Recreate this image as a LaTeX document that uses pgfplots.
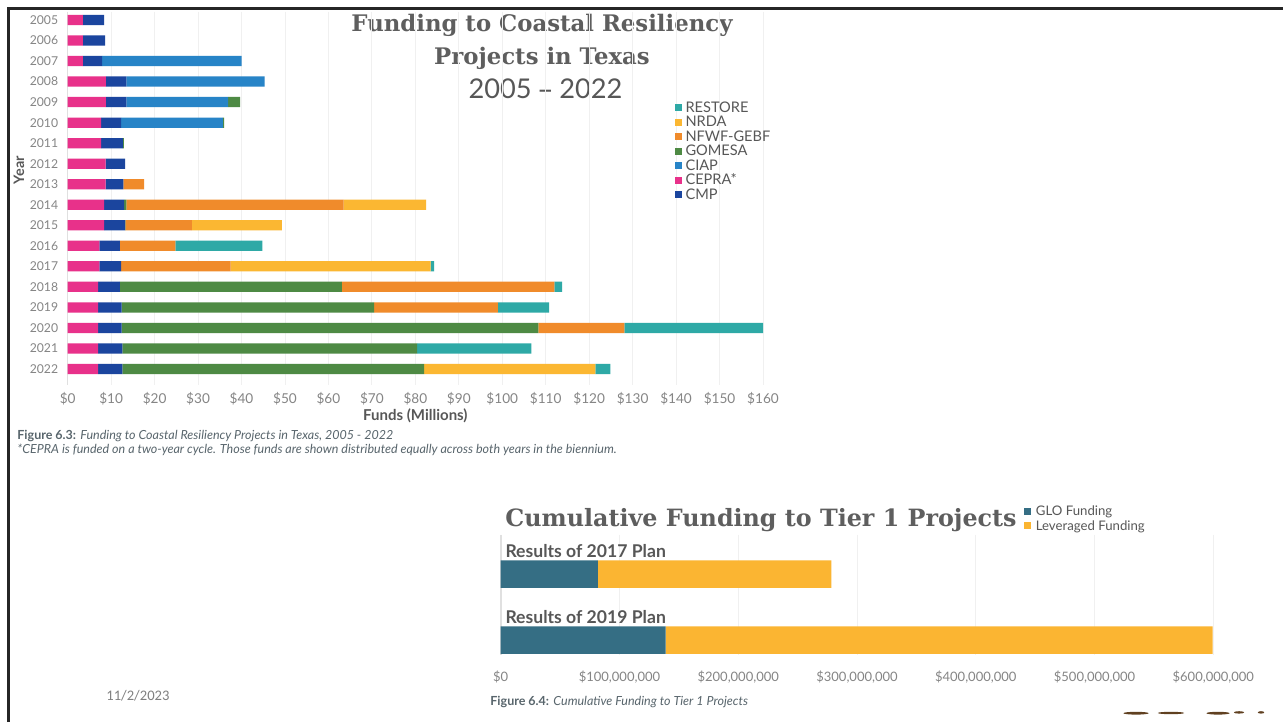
\documentclass[border=0pt]{standalone}
\usepackage{fontspec}
\setmainfont{Lato}
\newfontfamily\slabfont{DejaVu Serif}
\newfontfamily\datefont{Carlito}
\newfontfamily\dashfont{Open Sans}
\usepackage{pgfplots}
\pgfplotsset{compat=1.18}
\usepackage{pgfplotstable}

\definecolor{cepra}{HTML}{E8318A}
\definecolor{cmp}{HTML}{1B459E}
\definecolor{ciap}{HTML}{2784C7}
\definecolor{gomesa}{HTML}{4E8A44}
\definecolor{nfwf}{HTML}{F08B2B}
\definecolor{nrda}{HTML}{FBB732}
\definecolor{restore}{HTML}{2EA9A6}
\definecolor{glo}{HTML}{356E84}
\definecolor{lev}{HTML}{FBB532}
\definecolor{titlegray}{HTML}{575757}
\definecolor{headgray}{HTML}{5E5E5E}
\definecolor{tickgray}{HTML}{858585}
\definecolor{capgray}{HTML}{58656C}

% funding per year (millions), stacked left to right
\pgfplotstableread{
idx CEPRA CMP CIAP GOMESA NFWF NRDA RESTORE
0   3.5   4.9 0    0    0    0    0
1   3.5   5.1 0    0    0    0    0
2   3.5   4.4 32.1 0    0    0    0
3   8.8   4.7 31.8 0    0    0    0
4   8.8   4.7 23.4 2.8  0    0    0
5   7.7   4.6 23.4 0.3  0    0    0
6   7.7   5.0 0    0.2  0    0    0
7   8.7   4.5 0    0    0    0    0
8   8.7   4.1 0    0    4.8  0    0
9   8.4   4.6 0    0.5  50.0 19.0 0
10  8.4   4.8 0    0.1  15.3 20.7 0
11  7.3   4.7 0    0    12.8 0    20.0
12  7.3   5.0 0    0    25.2 46.0 0.8
13  7.0   5.0 0    51.1 48.9 0    1.8
14  7.0   5.4 0    58.1 28.5 0    11.8
15  7.0   5.4 0    95.9 19.8 0    31.9
16  7.0   5.6 0    67.8 0    0    26.3
17  7.0   5.6 0    69.4 0    39.4 3.5
}\coastal

% tier 1 projects (millions of dollars)
\pgfplotstableread{
idx GLO   LEV
0   81.9  196.5
1   138.9 460.6
}\tierone

\pgfplotsset{
  sqlegend/.style={legend image code/.code={\fill[draw=none,##1] (0pt,-1.75pt) rectangle (3.5pt,1.75pt);}},
}

\begin{document}
\begin{tikzpicture}
\path[use as bounding box] (0,0) rectangle (641.5pt,361pt);
\fill[white] (0,0) rectangle (641.5pt,361pt);

% slide frame
\draw[line width=1.3pt, black!85] (4.25pt,0pt) -- (4.25pt,356.75pt) -- (641.5pt,356.75pt);

% top chart titles
\node[anchor=base, inner sep=0pt, text=headgray, font=\slabfont\bfseries\fontsize{11.4}{13}\selectfont] at (271pt,345.15pt) {Funding to Coastal Resiliency};
\node[anchor=base, inner sep=0pt, text=headgray, font=\slabfont\bfseries\fontsize{11.4}{13}\selectfont] at (271pt,328.85pt) {Projects in Texas};
\node[anchor=base, inner sep=0pt, text=titlegray, font=\fontsize{13.6}{15}\selectfont] at (272.75pt,311.85pt) {2005 {\dashfont –} 2022};

\begin{axis}[
  at={(33.85pt,168.3pt)}, anchor=south west,
  scale only axis, width=347.65pt, height=186.8pt,
  xbar stacked, bar width=0.5,
  y dir=reverse, ymin=-0.4, ymax=17.8,
  xmin=0, xmax=160, clip=false,
  ytick={0,...,17},
  yticklabels={2005,2006,2007,2008,2009,2010,2011,2012,2013,2014,2015,2016,2017,2018,2019,2020,2021,2022},
  xtick={0,10,...,160},
  xticklabel={\$\pgfmathprintnumber{\tick}},
  /pgf/number format/assume math mode=true,
  axis x line*=bottom, axis y line*=left,
  x axis line style={draw=none},
  y axis line style={draw=black!12, line width=0.8pt},
  major tick length=0pt,
  xmajorgrids, grid style={black!6, line width=0.4pt},
  tick label style={font=\fontsize{6.8}{8}\selectfont, text=tickgray},
  yticklabel style={inner sep=0pt, xshift=-4.6pt, font=\fontsize{6.1}{8}\selectfont},
  xticklabel style={inner sep=0pt, yshift=-3.2pt},
  xlabel={Funds (Millions)},
  xlabel style={font=\bfseries\fontsize{7.5}{8}\selectfont, text=titlegray, yshift=1.5pt},
  ylabel={Year},
  ylabel style={at={(axis description cs:-0.07,0.5766)}, anchor=center, font=\bfseries\fontsize{7.2}{8}\selectfont, text=titlegray},
  sqlegend,
  legend style={draw=none, fill=none, at={(0.873,0.759)}, anchor=north west,
    font=\fontsize{7.3}{8}\selectfont, text=titlegray, inner sep=0pt, row sep=1.75pt,
    nodes={inner sep=0.4pt, text height=4.7pt, text depth=0pt},
    /tikz/every odd column/.append style={column sep=1.3pt}},
  legend cell align=left,
  legend entries={RESTORE,NRDA,NFWF-GEBF,GOMESA,CIAP,CEPRA*,CMP},
]
\addlegendimage{fill=restore}
\addlegendimage{fill=nrda}
\addlegendimage{fill=nfwf}
\addlegendimage{fill=gomesa}
\addlegendimage{fill=ciap}
\addlegendimage{fill=cepra}
\addlegendimage{fill=cmp}
\addplot[fill=cepra, draw=none] table[x=CEPRA, y=idx] {\coastal};
\addplot[fill=cmp, draw=none] table[x=CMP, y=idx] {\coastal};
\addplot[fill=ciap, draw=none] table[x=CIAP, y=idx] {\coastal};
\addplot[fill=gomesa, draw=none] table[x=GOMESA, y=idx] {\coastal};
\addplot[fill=nfwf, draw=none] table[x=NFWF, y=idx] {\coastal};
\addplot[fill=nrda, draw=none] table[x=NRDA, y=idx] {\coastal};
\addplot[fill=restore, draw=none] table[x=RESTORE, y=idx] {\coastal};
\end{axis}

% captions of figure 6.3
\node[anchor=base west, inner sep=0pt, text=capgray, font=\fontsize{6.25}{7}\selectfont] at (8.5pt,141.3pt) {\textbf{Figure 6.3:} \textit{Funding to Coastal Resiliency Projects in Texas, 2005 - 2022}};
\node[anchor=base west, inner sep=0pt, text=capgray, font=\fontsize{6.25}{7}\selectfont] at (8.5pt,134.3pt) {\textit{*CEPRA is funded on a two-year cycle. Those funds are shown distributed equally across both years in the biennium.}};

% bottom chart title
\node[anchor=base, inner sep=0pt, text=headgray, font=\slabfont\bfseries\fontsize{11.9}{14}\selectfont] at (380.5pt,97.65pt) {Cumulative Funding to Tier 1 Projects};

\begin{axis}[
  at={(250.35pt,33.5pt)}, anchor=south west,
  scale only axis, width=356.3pt, height=60pt,
  xbar stacked, bar width=0.417,
  y dir=reverse, ymin=-0.594, ymax=1.224,
  xmin=0, xmax=600, clip=false,
  ytick=\empty,
  xtick={0,100,...,600},
  xticklabels={{\$0},{\$100,000,000},{\$200,000,000},{\$300,000,000},{\$400,000,000},{\$500,000,000},{\$600,000,000}},
  axis x line*=bottom, axis y line*=left,
  x axis line style={draw=none},
  y axis line style={draw=black!12, line width=0.8pt},
  major tick length=0pt,
  xmajorgrids, grid style={black!6, line width=0.4pt},
  tick label style={font=\fontsize{6.5}{8}\selectfont, text=tickgray},
  xticklabel style={inner sep=0pt, yshift=-7.8pt},
  sqlegend,
  legend style={draw=none, fill=none, at={(0.7344,1.25)}, anchor=north west,
    font=\fontsize{6.6}{7}\selectfont, text=titlegray, inner sep=0pt, row sep=1.6pt,
    nodes={inner sep=0.4pt, text height=4.9pt, text depth=0pt},
    /tikz/every odd column/.append style={column sep=1.8pt}},
  legend cell align=left,
]
\addplot[fill=glo, draw=none] table[x=GLO, y=idx] {\tierone};
\addlegendentry{GLO Funding}
\addplot[fill=lev, draw=none] table[x=LEV, y=idx] {\tierone};
\addlegendentry{Leveraged Funding}
\node[anchor=base west, inner sep=0pt, xshift=2.2pt, text=titlegray, font=\bfseries\fontsize{8.8}{10}\selectfont] at (axis cs:0,-0.255) {Results of 2017 Plan};
\node[anchor=base west, inner sep=0pt, xshift=2.2pt, text=titlegray, font=\bfseries\fontsize{8.8}{10}\selectfont] at (axis cs:0,0.74) {Results of 2019 Plan};
\end{axis}

% caption of figure 6.4
\node[anchor=base west, inner sep=0pt, text=capgray, font=\fontsize{6.25}{7}\selectfont] at (245pt,8.5pt) {\textbf{Figure 6.4:} \textit{Cumulative Funding to Tier 1 Projects}};

% slide date
\node[anchor=base west, inner sep=0pt, text=black!50, font=\datefont\fontsize{7.3}{8}\selectfont] at (53pt,11pt) {11/2/2023};

% clipped logo fragments at the bottom edge
\fill[black!50!brown] (568pt,4.4pt) ellipse (6.3pt and 0.7pt);
\fill[black!50!brown] (585.5pt,4.5pt) ellipse (6.6pt and 0.6pt);
\fill[black!50!brown] (609pt,4.4pt) ellipse (5.8pt and 0.7pt);
\fill[black!50!brown] (619.5pt,4.8pt) ellipse (2.6pt and 0.6pt);
\fill[black!50!brown] (630.5pt,4.8pt) ellipse (1.6pt and 0.6pt);
\end{tikzpicture}
\end{document}
